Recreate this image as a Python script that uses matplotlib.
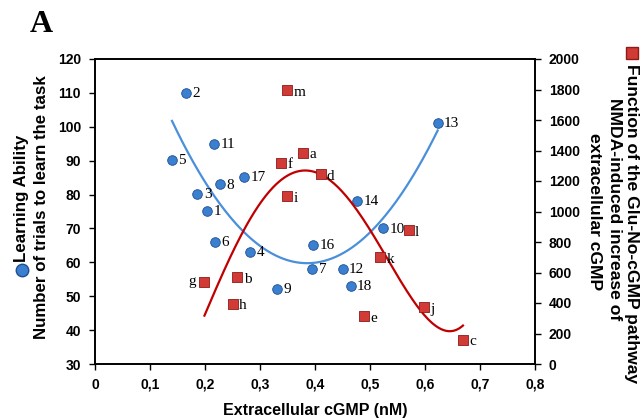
import numpy as np
import matplotlib
matplotlib.use("Agg")
import matplotlib.pyplot as plt

# Learning ability (blue circles, left axis)
blue_labels = ["1", "2", "3", "4", "5", "6", "7", "8", "9", "10", "11", "12", "13", "14", "16", "17", "18"]
blue_x = [0.204, 0.165, 0.186, 0.282, 0.140, 0.218, 0.395, 0.227, 0.331, 0.524, 0.216, 0.450, 0.623, 0.476, 0.396, 0.271, 0.465]
blue_y = [75.1, 110.1, 80.2, 63.1, 90.2, 66.0, 58.1, 83.0, 52.1, 70.0, 95.0, 58.1, 101.2, 78.1, 65.1, 85.2, 53.0]

# Glu-NO-cGMP pathway function (red squares, right axis)
red_labels = ["a", "b", "c", "d", "e", "f", "g", "h", "i", "j", "k", "l", "m"]
red_x = [0.379, 0.259, 0.669, 0.410, 0.489, 0.339, 0.199, 0.250, 0.349, 0.599, 0.519, 0.570, 0.349]
red_y = [1386, 568, 159, 1246, 313, 1320, 540, 395, 1100, 374, 702, 879, 1795]

xticks = [0, 0.1, 0.2, 0.3, 0.4, 0.5, 0.6, 0.7, 0.8]
xticklabels = ["0", "0,1", "0,2", "0,3", "0,4", "0,5", "0,6", "0,7", "0,8"]

BLUE = "#3b7fd0"
BLUE_EDGE = "#1f4f8f"
RED = "#d23a35"
RED_EDGE = "#8a1c1a"

fig = plt.figure(figsize=(6.41, 4.18), dpi=100)
ax = fig.add_axes([95/641, 1 - 364/418, 440/641, 305/418])
ax2 = ax.twinx()

# blue points
ax.scatter(blue_x, blue_y, s=48, color=BLUE, edgecolor=BLUE_EDGE, linewidth=0.6, zorder=4)
for lx, ly, t in zip(blue_x, blue_y, blue_labels):
    ax.annotate(t, (lx, ly), xytext=(4.6, -0.5), textcoords="offset points",
                ha="left", va="center", fontfamily="Liberation Serif", fontsize=11, zorder=5)

# blue trendline (2nd order polynomial fit)
cb = np.polyfit(blue_x, blue_y, 2)
xb = np.linspace(min(blue_x), max(blue_x), 200)
ax.plot(xb, np.polyval(cb, xb), color="#4a8fdc", lw=1.6, zorder=3)

# red points
ax2.scatter(red_x, red_y, s=42, marker="s", color=RED, edgecolor=RED_EDGE, linewidth=0.6, zorder=4)
for lx, ly, t in zip(red_x, red_y, red_labels):
    if t == "g":
        ax2.annotate(t, (lx, ly), xytext=(-6, 0), textcoords="offset points",
                     ha="right", va="center", fontfamily="Liberation Serif", fontsize=11, zorder=5)
    else:
        ax2.annotate(t, (lx, ly), xytext=(4.6, -1.5), textcoords="offset points",
                     ha="left", va="center", fontfamily="Liberation Serif", fontsize=11, zorder=5)

# red trendline (4th order polynomial fit)
cr = np.polyfit(red_x, red_y, 4)
xr = np.linspace(min(red_x), max(red_x), 200)
ax2.plot(xr, np.polyval(cr, xr), color="#c00000", lw=1.6, zorder=3)

ax.set_xlim(0, 0.8)
ax.set_ylim(30, 120)
ax2.set_ylim(0, 2000)
ax.set_xticks(xticks)
ax.set_xticklabels(xticklabels)
ax.set_yticks(range(30, 121, 10))
ax2.set_yticks(range(0, 2001, 200))

for a in (ax, ax2):
    a.tick_params(direction="out", length=4, width=1, pad=6)
    for lab in a.get_xticklabels() + a.get_yticklabels():
        lab.set_fontfamily("Liberation Sans")
        lab.set_fontweight("bold")
        lab.set_fontsize(10)
    for s in a.spines.values():
        s.set_linewidth(1.2)

ax.set_xlabel("Extracellular cGMP (nM)", fontfamily="Liberation Sans", fontweight="bold", fontsize=11.5, labelpad=8)

# left label
fig.text(22/641, 1 - 198/418, "Learning Ability", rotation=90, ha="center", va="center",
         fontfamily="Liberation Sans", fontweight="bold", fontsize=12.2)
fig.text(42/641, 1 - 207/418, "Number of trials to learn the task", rotation=90, ha="center", va="center",
         fontfamily="Liberation Sans", fontweight="bold", fontsize=12.2)
fig.add_artist(plt.Line2D([22/641], [1 - 270/418], marker="o", markersize=9, color=BLUE,
                          markeredgecolor=BLUE_EDGE, transform=fig.transFigure))

# right label
fig.text(632/641, 1 - 224/418, "Function of the Glu-No-cGMP pathway", rotation=270, ha="center", va="center",
         fontfamily="Liberation Sans", fontweight="bold", fontsize=12.6)
fig.text(614/641, 1 - 209/418, "NMDA-induced increase of", rotation=270, ha="center", va="center",
         fontfamily="Liberation Sans", fontweight="bold", fontsize=12.6)
fig.text(595/641, 1 - 212/418, "extracellular cGMP", rotation=270, ha="center", va="center",
         fontfamily="Liberation Sans", fontweight="bold", fontsize=12.6)
fig.add_artist(plt.Line2D([632/641], [1 - 53/418], marker="s", markersize=8, color=RED,
                          markeredgecolor=RED_EDGE, transform=fig.transFigure))

fig.text(30/641, 1 - 24/418, "A", fontfamily="Liberation Serif", fontweight="bold", fontsize=23,
         ha="left", va="center")

fig.savefig("out.png", dpi=100)
